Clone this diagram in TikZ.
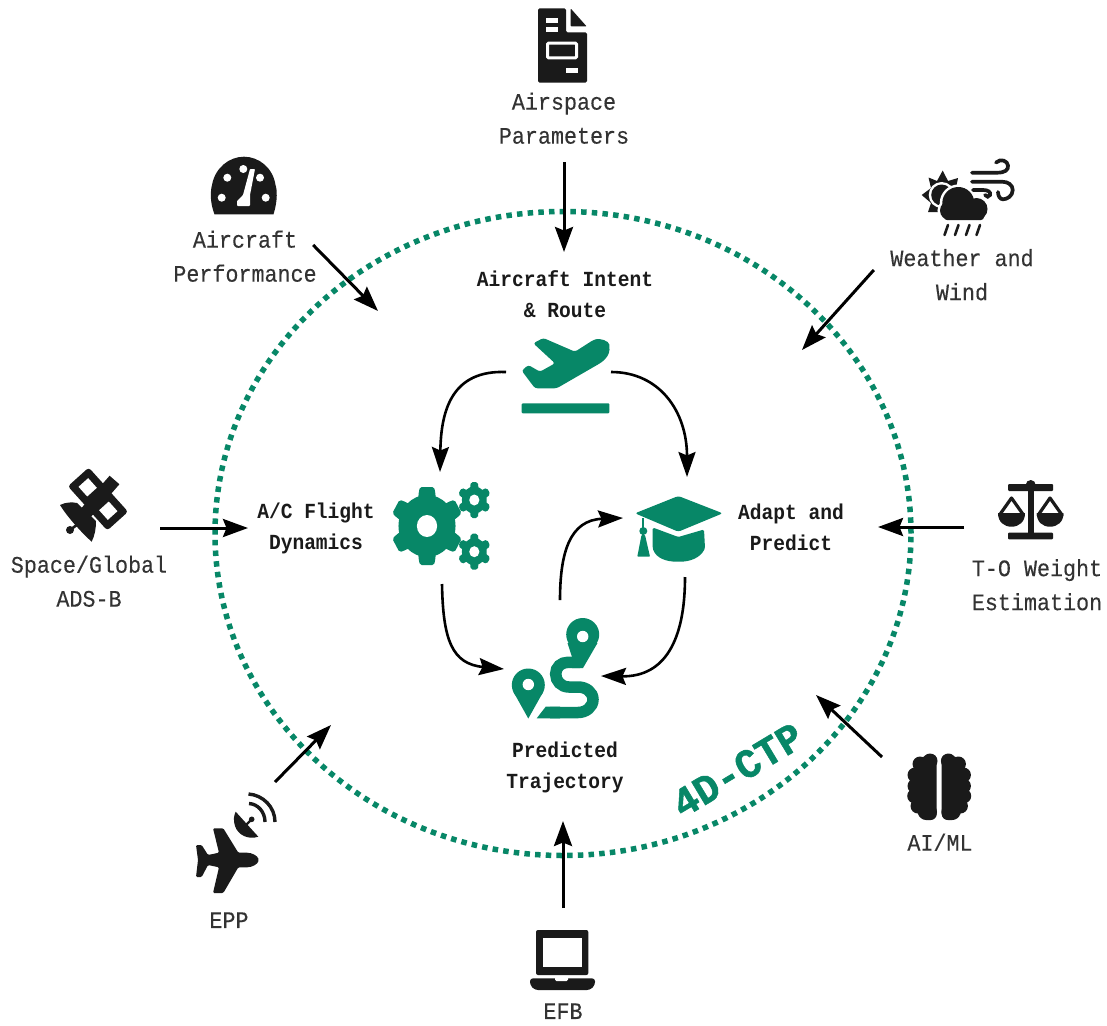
\documentclass[tikz,border=0pt]{standalone}
\usepackage{fontspec}
\setmainfont{Liberation Mono}
\newfontfamily\lblfont[FakeStretch=0.92,FakeBold=0.25]{Liberation Mono}
\newfontfamily\blblfont[FakeStretch=0.91,BoldFont={Liberation Mono Bold}]{Liberation Mono}
\newfontfamily\bigfont[FakeBold=1.2,FakeStretch=0.98]{Liberation Mono Bold}
\usetikzlibrary{arrows.meta}
\definecolor{grn}{RGB}{7,135,103}
\definecolor{ink}{RGB}{26,26,26}
\definecolor{txt}{RGB}{51,51,51}
\tikzset{
  ring/.style={draw=grn,line width=5.5pt,dash pattern=on 5.5pt off 5.2pt},
  conn/.style={draw=black,line width=3pt,-{Stealth[length=25pt,width=18pt,inset=3.5pt]}},
  curved/.style={draw=black,line width=2.6pt,-{Stealth[length=25pt,width=17pt,inset=3.5pt]}},
  lbl/.style={inner sep=0pt,outer sep=0pt,align=center,text=txt,yshift=0.8pt,font=\lblfont\fontsize{23.6}{34}\selectfont},
  blbl/.style={inner sep=0pt,outer sep=0pt,align=center,text=ink,font=\blblfont\bfseries\fontsize{21.5}{31}\selectfont},
  hold/.style={inner sep=0pt,outer sep=0pt},
  stroke/.style={line width=3.7pt,draw=ink,line cap=round,fill=none}
}
\newcommand{\mkgear}[6]{%
  \begin{scope}[shift={(#1,#2)},xscale=0.92]
    \fill[grn] (0,0) circle (#4pt);
    \foreach \a in {30,90,150,210,270,330}{
      \fill[grn,rotate=\a,rounded corners=1.8pt] (0,-#6*0.58) -- (#3*0.8,-#6*0.55) -- (#3,-#6*0.46) -- (#3,#6*0.46) -- (#3*0.8,#6*0.55) -- (0,#6*0.58) -- cycle;
    }
    \fill[white] (0,0) circle (#5pt);
  \end{scope}}
\newcommand{\cloudshape}[1]{%
  \path[#1] (958.3,203) circle (16pt);
  \path[#1] (976.5,209) circle (11pt);
  \path[#1] (949.5,210.5) circle (9.5pt);
  \path[#1,rounded corners=3pt] (944,208) rectangle (984,220);}
\newcommand{\brainhalf}{%
  \fill[ink,rounded corners=6pt] (936.7,753.5) -- (936.7,820) -- (920,820) -- (911,792) -- (918,758) -- cycle;
  \foreach \p/\r in {{930,761}/7.5,{920,764}/7.5,{915,775}/7.5,{915,786}/7.5,{914.5,796}/7.3,{918,806}/7.5,{929,812}/8}{
    \fill[ink] (\p) circle (\r pt);}
}
\begin{document}
\begin{tikzpicture}[x=1pt,y=-1pt]
\useasboundingbox (0,0) rectangle (1107,1025);
\fill[white] (0,0) rectangle (1107,1025);
% ring
\draw[ring] (563,533.5) ellipse [x radius=348pt,y radius=322pt];

% ---------- labels (outer)
\node[lbl,minimum height=88pt] (airspace) at (564,119) {Airspace\\Parameters};
\node[lbl] (perf) at (245,257) {Aircraft\\Performance};
\node[lbl] (weather) at (962,275.5) {Weather and\\Wind};
\node[lbl] (weight) at (1037,585.5) {T-O Weight\\Estimation};
\node[lbl] (ads) at (89,582) {Space/Global\\ADS-B};
\node[lbl] (epp) at (229,921) {EPP};
\node[lbl] (efb) at (563,1012) {EFB};
\node[lbl] (aiml) at (940,843) {AI/ML};
% ---------- labels (inner)
\node[blbl,minimum height=84pt] (intent) at (565,294) {Aircraft Intent\\\& Route};
\node[blbl,minimum width=136pt] (dyn) at (316,528) {A/C Flight\\Dynamics};
\node[blbl,minimum width=174pt] (adapt) at (791,527) {Adapt and\\Predict};
\node[blbl,minimum height=107pt] (pred) at (565,767) {Predicted\\Trajectory};
\node[hold,rotate=31,text=grn,font=\bigfont\fontsize{41}{41}\selectfont] (ctp) at (737.5,770) {4D-CTP};

% ---------- invisible holders of the icons
\node[hold,minimum width=105pt,minimum height=80pt] (plane) at (558.5,372) {};
\node[hold,minimum width=60pt,minimum height=112pt] (gears) at (440,528) {};
\node[hold,minimum width=126pt,minimum height=100pt] (cap) at (686,527) {};
\node[hold,minimum width=97pt,minimum height=145pt] (route) at (552.5,672.5) {};
\node[hold,minimum width=134pt,minimum height=24pt] (scales) at (1031,527) {};
\node[hold,minimum width=140pt,minimum height=24pt] (sat) at (90,528) {};
\node[hold,minimum width=92pt,minimum height=126pt] (eppicon) at (229,845) {};
\node[hold,minimum width=70pt,minimum height=104pt] (laptop) at (563,960) {};
\node[hold,minimum width=116pt,minimum height=58pt] (brain) at (940,786) {};
\coordinate (perfEnd) at (378,311);
\coordinate (weatherEnd) at (802,350);
\coordinate (eppEnd) at (331,725);
\coordinate (aimlEnd) at (816,695);

% ---------- outer connectors
\draw[conn] (airspace.south) -- ([xshift=-1pt]intent.north);
\draw[conn] ([xshift=-3.5pt,yshift=11.2pt]perf.east) -- (perfEnd);
\draw[conn] ([xshift=-16.5pt,yshift=4.7pt]weather.west) -- (weatherEnd);
\draw[conn] (scales.west) -- (adapt.east);
\draw[conn] (sat.east) -- (dyn.west);
\draw[conn] (eppicon.north east) -- (eppEnd);
\draw[conn] (laptop.north) -- ([xshift=-2pt,yshift=-0.5pt]pred.south);
\draw[conn] (brain.north west) -- (aimlEnd);

% ---------- inner connectors
\draw[curved] (plane.west) .. controls (452,370) and (441,410) .. (gears.north);
\draw[curved] (plane.east) .. controls (660,372) and (687,412) .. ([xshift=1pt]cap.north);
\draw[curved] ([xshift=2pt]gears.south) .. controls (443,640) and (452,664) .. ([yshift=3.5pt]route.west);
\draw[curved] ([xshift=-1pt]cap.south) .. controls (685,640) and (665,677) .. ([yshift=-3.5pt]route.east);
\draw[curved] ([xshift=7.5pt]route.north) .. controls (560,552) and (570,520) .. ([yshift=9pt]cap.west);

% ---------- green plane
\fill[grn,rounded corners=2.5pt] (543.3,338) -- (533.3,343.3) -- (555,363.3) -- (540,371.7) -- (528.3,365) -- (521.7,370.7) -- (535,388.3) -- (556.7,388.3) -- (600,363.3) .. controls (606,359) and (609.5,354) .. (609.5,347) .. controls (609,341) and (600,338) .. (593.3,340) -- (575,351.7) -- cycle;
\fill[grn,rounded corners=1pt] (521.7,403.3) rectangle (609.3,413.3);

% ---------- gears
\mkgear{427}{526}{39}{31}{11}{17}
\mkgear{474.3}{500}{18}{13.5}{5.5}{8}
\mkgear{474.3}{551.7}{18}{13.5}{5.5}{8}

% ---------- graduation cap
\fill[grn,rounded corners=2.5pt] (635,513.3) -- (678.3,496) -- (722.7,513.3) -- (678.3,531.7) -- cycle;
\fill[grn,rounded corners=1.5pt] (652.7,527.5) -- (678.3,537) -- (704,529.5) -- (705,548.3) .. controls (700,558) and (690,561.7) .. (678.3,561.7) .. controls (666,561.7) and (656,558) .. (652.7,548.3) -- cycle;
\draw[grn,line width=1.8pt] (643.3,518) -- (643.3,535);
\fill[grn] (643.3,531) circle (4pt);
\fill[grn,rounded corners=0.8pt] (641.5,535) -- (645,535) -- (650,556.7) -- (637.3,556.7) -- cycle;

% ---------- route
\fill[grn] (582.7,634.5) circle (16.5pt);
\fill[grn] (567.5,643) -- (597.5,643) -- (583,668) -- (572,668) -- (572,657) -- cycle;
\fill[white] (582.7,636.5) circle (5.7pt);
\fill[grn] (528.3,685) circle (16.5pt);
\fill[grn] (513.5,692) -- (543.1,692) -- (528.3,718.5) -- cycle;
\fill[white] (528.3,684.5) circle (5.7pt);
\fill[grn] (536.7,718.3) -- (545.7,706.7) -- (560,706.7) -- (560,718.3) -- cycle;
\draw[grn,line width=11.5pt] (550,712.5) -- (578,712.5) .. controls (586,712.5) and (593,707) .. (593,699.5) .. controls (593,692) and (586,687) .. (578,687) -- (569,687) .. controls (561,687) and (555.7,681) .. (555.7,674) .. controls (555.7,667) and (561,662.3) .. (568,662.3) -- (580,662.3);

% ---------- document icon
\fill[ink,rounded corners=1.5pt] (538,8.3) -- (566,8.3) -- (566,32.5) -- (587,32.5) -- (587,82.7) -- (538,82.7) -- cycle;
\fill[ink,rounded corners=0.8pt] (570.7,8.5) -- (586.7,26.5) -- (570.7,26.5) -- cycle;
\fill[white] (546,18.3) rectangle (558,22.7);
\fill[white] (546,26.7) rectangle (558,31.7);
\draw[white,line width=3pt,rounded corners=1pt] (547.5,43.2) rectangle (576.5,57.8);
\fill[white] (566,68.3) rectangle (578,73.3);

% ---------- gauge
\fill[ink] (214.5,214.3) .. controls (209,200) and (211,189) .. (212,185) .. controls (215,168) and (229,156.7) .. (244,156.7) .. controls (259,156.7) and (273,168) .. (275.5,185) .. controls (277,189) and (278,200) .. (273.5,214.3) -- cycle;
\foreach \p in {{227.3,177.7},{243.3,169},{260,177.7},{221.7,197.7},{265.7,197.7}}{\fill[white] (\p) circle (4pt);}
\fill[white,rounded corners=0.8pt] (237,206) -- (237,201) -- (243,195) -- (250,169) -- (255,169) -- (250,195) -- (250,206) -- cycle;

% ---------- weather
\fill[ink] (942.7,170.5) -- (948,181) -- (958,178) -- (956,188) -- (960,195) -- (955,205) -- (945,212) -- (928,212) -- (931,203) -- (921.7,195) -- (931,188) -- (928.5,177.5) -- (937,181) -- cycle;
\fill[white] (941.7,195) circle (13pt);
\fill[ink] (941.7,195) circle (10.5pt);
\cloudshape{draw=white,line width=5pt,fill=white}
\cloudshape{fill=ink}
\draw[stroke,line width=2.6pt] (948,225) -- (944.5,235);
\draw[stroke,line width=2.6pt] (958.5,225) -- (955,235);
\draw[stroke,line width=2.6pt] (969.5,225) -- (966,235);
\draw[stroke,line width=2.6pt] (980,225) -- (976.5,235);
\draw[stroke] (972,172.7) -- (997,172.7) .. controls (1005,172.7) and (1008.5,170) .. (1008,165.5) .. controls (1007.5,161) and (1001,158) .. (996,162.5);
\draw[stroke] (972,181.7) -- (1002,181.7) .. controls (1008,181.7) and (1012.7,185) .. (1012.7,190) .. controls (1012.7,196) and (1007,199.3) .. (1003,199.3) .. controls (1000,199.3) and (998,196) .. (998,192);
\draw[stroke] (973,190) -- (983,190) .. controls (988,190) and (991,192) .. (990,195) .. controls (989.5,197) and (986,197.5) .. (985,195);

% ---------- scales
\fill[ink,rounded corners=1pt] (1008,484) rectangle (1053,491);
\fill[ink] (1030.7,485) circle (5pt);
\fill[ink] (1027.7,485) rectangle (1034,535);
\fill[ink,rounded corners=1pt] (1008,532.7) rectangle (1053,539.3);
\fill[ink] (998,513) -- (1025,513) .. controls (1025,522) and (1019,526.7) .. (1011.5,526.7) .. controls (1004,526.7) and (998,522) .. (998,513) -- cycle;
\fill[ink] (1036.7,513) -- (1063.5,513) .. controls (1063.5,522) and (1057.5,526.7) .. (1050,526.7) .. controls (1042.5,526.7) and (1036.7,522) .. (1036.7,513) -- cycle;
\draw[ink,line width=3.2pt,line join=round] (1011.5,498) -- (999.5,515) -- (1023.5,515) -- cycle;
\draw[ink,line width=3.2pt,line join=round] (1050,498) -- (1038.2,515) -- (1062,515) -- cycle;

% ---------- satellite
\fill[ink] (60,505) .. controls (66,502) and (72,502) .. (77,503) -- (96,521) .. controls (96,528) and (95,535) .. (91.7,541.7) .. controls (83,534) and (68,518) .. (60,505) -- cycle;
\fill[ink] (70,530) circle (4pt);
\draw[ink,line width=2.6pt] (70,530) -- (78,524);
\draw[ink,line width=13pt] (84,515) -- (114.5,480);
\begin{scope}[shift={(87.7,487.3)},rotate=-48]
  \fill[ink,rounded corners=3pt] (-14,-14) rectangle (14,14);
  \fill[white] (-6.5,-6.5) rectangle (6.5,6.5);
\end{scope}
\begin{scope}[shift={(108.3,510.7)},rotate=-48]
  \fill[ink,rounded corners=3pt] (-14,-14) rectangle (14,14);
  \fill[white] (-6.5,-6.5) rectangle (6.5,6.5);
\end{scope}

% ---------- EPP plane and dish
\fill[ink,rounded corners=1.2pt] (258.5,860) .. controls (258,856) and (252,852.7) .. (246,852.7) -- (238.3,852.7) -- (223.3,828.3) -- (213,828.3) -- (219,852.7) -- (208,855) -- (201.7,845) -- (196,845) -- (198,860) -- (196,877) -- (201.7,877) -- (208,865) -- (219,867.3) -- (213,893) -- (223.3,893) -- (238.3,867.3) -- (246,867.3) .. controls (252,867.3) and (258,864) .. (258.5,860) -- cycle;
\fill[ink] (235.7,811.7) -- (258.3,836.7) .. controls (248,840) and (238,835) .. (235,826) .. controls (233,820) and (234,815) .. (235.7,811.7) -- cycle;
\draw[ink,line width=2.4pt] (243,828) -- (251.7,819.3);
\fill[ink] (251.7,819.3) circle (2.8pt);
\draw[ink,line width=3.4pt] (249,803.5) .. controls (258,804) and (265,812) .. (265,822);
\draw[ink,line width=3.4pt] (248.5,794) .. controls (263,795) and (275,807) .. (275,822);

% ---------- laptop
\fill[ink,rounded corners=2pt] (536,930) rectangle (588.3,975);
\fill[white] (542.7,937.7) rectangle (582,967.3);
\fill[ink,rounded corners=3pt] (530,978.3) -- (595,978.3) -- (595,985) -- (590,990) -- (535,990) -- (530,985) -- cycle;
\fill[white,rounded corners=1.5pt] (555,976) -- (568,976) -- (568,981) -- (555,981) -- cycle;

% ---------- brain
\brainhalf
\begin{scope}[xshift=1878.4pt,xscale=-1]
  \brainhalf
\end{scope}
\end{tikzpicture}
\end{document}
